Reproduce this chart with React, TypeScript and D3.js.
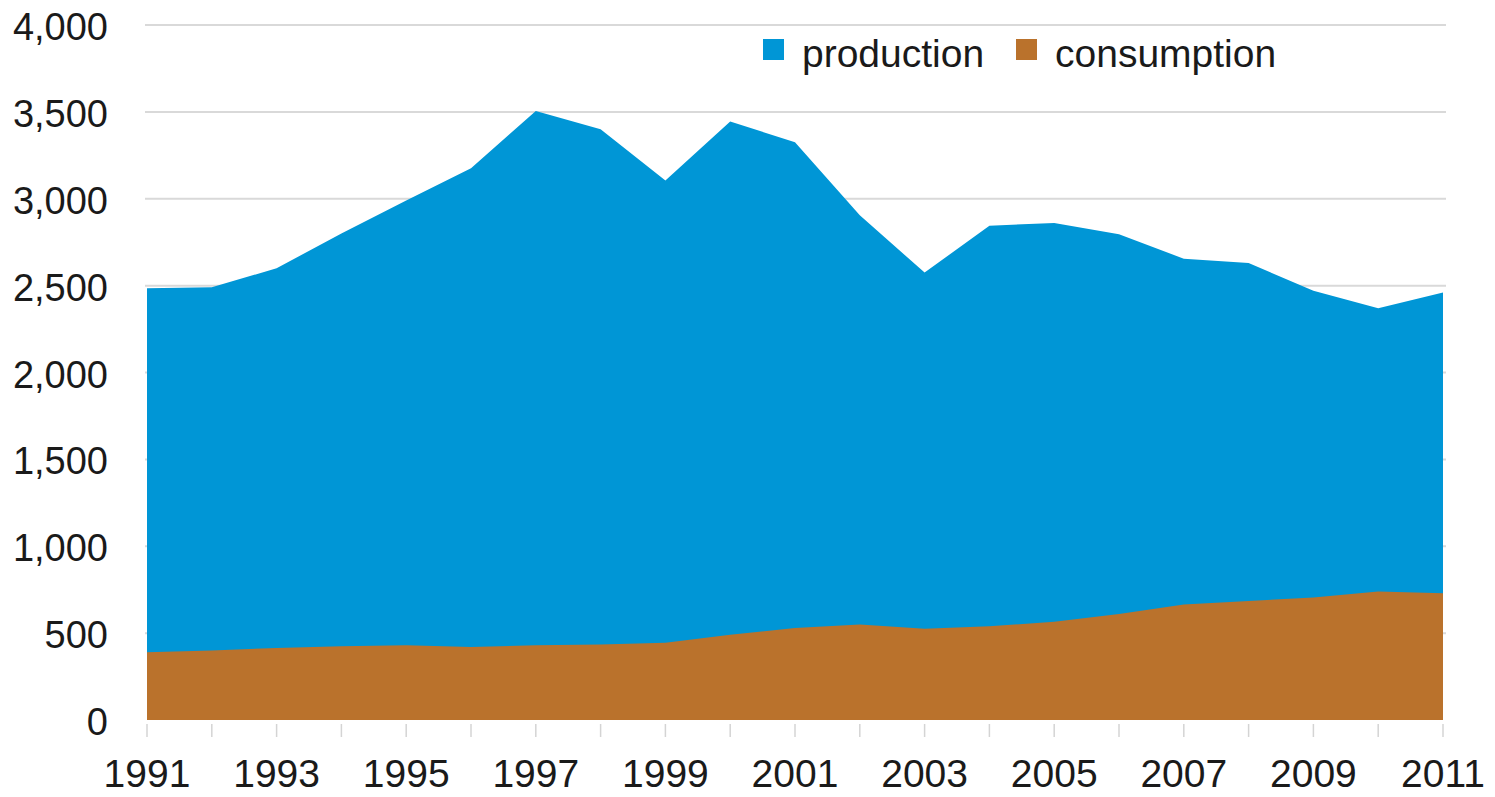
import React from "react";
import * as d3 from "d3";

const years = [1991, 1992, 1993, 1994, 1995, 1996, 1997, 1998, 1999, 2000, 2001, 2002, 2003, 2004, 2005, 2006, 2007, 2008, 2009, 2010, 2011];
const production = [2485, 2490, 2600, 2800, 2990, 3175, 3505, 3400, 3105, 3445, 3325, 2905, 2575, 2845, 2860, 2795, 2655, 2630, 2470, 2370, 2460];
const consumption = [390, 400, 415, 425, 430, 420, 430, 435, 445, 490, 530, 550, 525, 540, 565, 610, 665, 685, 705, 740, 730];
const yTicks = [0, 500, 1000, 1500, 2000, 2500, 3000, 3500, 4000];
const xLabels = [1991, 1993, 1995, 1997, 1999, 2001, 2003, 2005, 2007, 2009, 2011];
const seriesNames = ["production", "consumption"];
const colors = ["#0096D6", "#BA722C"];

export default function App() {
  const W = 1495, H = 797;
  const x = d3.scaleLinear().domain([1991, 2011]).range([147, 1443]);
  const y = d3.scaleLinear().domain([0, 4000]).range([720, 25]);
  const fmt = d3.format(",");

  const area = (vals: number[]) =>
    d3.area<number>()
      .x((_, i) => x(years[i]))
      .y0(y(0))
      .y1((d) => y(d))(vals) || "";

  const font = "'Liberation Sans', Arial, sans-serif";
  const legendX = [763, 1016];

  return (
    <svg width={W} height={H} style={{ position: "absolute", left: 0, top: 0, background: "#fff" }}>
      {yTicks.filter((t) => t > 0).map((t) => (
        <line key={t} x1={145} x2={1446} y1={y(t)} y2={y(t)} stroke="#d9d9d9" strokeWidth={2} />
      ))}
      {years.map((yr) => (
        <line key={yr} x1={x(yr)} x2={x(yr)} y1={724} y2={737} stroke="#d4d4d4" strokeWidth={1.5} />
      ))}
      <path d={area(production)} fill={colors[0]} />
      <path d={area(consumption)} fill={colors[1]} />
      {yTicks.map((t) => (
        <text key={t} x={108} y={y(t) + 15} textAnchor="end" fontFamily={font} fontSize={38} fill="#1a1a1a">
          {fmt(t)}
        </text>
      ))}
      {xLabels.map((yr) => (
        <text key={yr} x={x(yr)} y={787} textAnchor="middle" fontFamily={font} fontSize={39} fill="#1a1a1a">
          {yr}
        </text>
      ))}
      {seriesNames.map((n, i) => (
        <g key={n}>
          <rect x={legendX[i]} y={39} width={21} height={21} fill={colors[i]} />
          <text x={legendX[i] + 39} y={67} fontFamily={font} fontSize={39} fill="#1a1a1a">
            {n}
          </text>
        </g>
      ))}
    </svg>
  );
}
